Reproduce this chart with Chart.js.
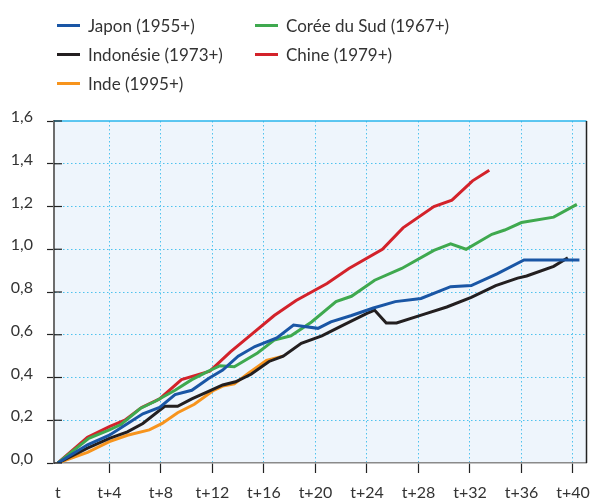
<!DOCTYPE html>
<html>
<head>
<meta charset="utf-8">
<script src="https://cdn.jsdelivr.net/npm/chart.js@4"></script>
<style>
  body { margin: 0; background: #fff; }
  #wrap { position: relative; width: 600px; height: 502px; }
  #legend { position: absolute; left: 0; top: 0; width: 600px; height: 100px; font-family: Lato, sans-serif; font-size: 17px; color: #333; }
  .item { position: absolute; display: flex; align-items: center; height: 20px; }
  .swatch { width: 23px; height: 3px; margin-right: 8px; }
</style>
</head>
<body>
<div id="wrap">
  <canvas id="myChart" width="600" height="502"></canvas>
  <div id="legend"></div>
</div>
<script>
const ctx = document.getElementById("myChart");

const xTicks = [0, 4, 8, 12, 16, 20, 24, 28, 32, 36, 40];

const japonT = [0, 2.3, 4, 5.3, 6.6, 7.9, 9.1, 10.4, 11.7, 12.8, 14, 15.3, 17, 18.3, 20.2, 21.2, 22.8, 24.5, 26.2, 28.2, 30.5, 32.1, 34.1, 36.2, 40.5];
const japonV = [0, 0.085, 0.13, 0.18, 0.23, 0.26, 0.32, 0.34, 0.395, 0.435, 0.5, 0.545, 0.585, 0.645, 0.63, 0.66, 0.69, 0.725, 0.755, 0.77, 0.825, 0.83, 0.885, 0.95, 0.95];

const coreeT = [0, 2.4, 4, 4.9, 6.4, 7.6, 9.1, 10.4, 11.7, 12.6, 13.7, 15.5, 16.8, 18.1, 19.7, 21.6, 22.8, 24.6, 26.7, 29.2, 30.5, 31.7, 33.7, 34.7, 36, 38.5, 40.3];
const coreeV = [0, 0.115, 0.155, 0.18, 0.255, 0.29, 0.34, 0.39, 0.43, 0.455, 0.45, 0.515, 0.575, 0.595, 0.66, 0.755, 0.78, 0.855, 0.91, 0.995, 1.025, 1.0, 1.07, 1.09, 1.125, 1.15, 1.21];

const indonesieT = [0, 2.3, 4, 5.4, 6.6, 8.3, 9.3, 10.4, 11.7, 12.8, 13.8, 15, 16.4, 17.5, 18.9, 20.5, 22, 24, 24.6, 25.5, 26.3, 28.4, 30.2, 32.1, 34, 35.7, 36.4, 38.5, 39.6];
const indonesieV = [0, 0.07, 0.115, 0.146, 0.185, 0.265, 0.265, 0.3, 0.335, 0.365, 0.38, 0.415, 0.475, 0.5, 0.56, 0.595, 0.64, 0.7, 0.715, 0.655, 0.655, 0.695, 0.73, 0.775, 0.83, 0.865, 0.875, 0.92, 0.96];

const chineT = [0, 2.3, 4, 5.2, 6.5, 7.9, 9.6, 11.8, 13.4, 15.2, 16.8, 18.5, 20.9, 22.6, 25.2, 26.8, 29.2, 30.6, 32.2, 33.5];
const chineV = [0, 0.12, 0.17, 0.2, 0.26, 0.3, 0.39, 0.43, 0.52, 0.61, 0.69, 0.76, 0.84, 0.91, 1.0, 1.1, 1.2, 1.23, 1.32, 1.37];

const indeT = [0, 2.3, 4, 5.4, 7.1, 8.1, 9.3, 10.6, 12.1, 12.8, 13.7, 14.8, 16.2, 17.5];
const indeV = [0, 0.05, 0.1, 0.13, 0.155, 0.185, 0.235, 0.275, 0.34, 0.36, 0.37, 0.42, 0.48, 0.5];

function pts(ts, vs) {
  return ts.map((t, i) => ({ x: t, y: vs[i] }));
}

const series = [
  { label: "Japon (1955+)", data: pts(japonT, japonV), color: "#1a56a5", col: 0, row: 0 },
  { label: "Corée du Sud (1967+)", data: pts(coreeT, coreeV), color: "#3fa94f", col: 1, row: 0 },
  { label: "Indonésie (1973+)", data: pts(indonesieT, indonesieV), color: "#231f20", col: 0, row: 1 },
  { label: "Chine (1979+)", data: pts(chineT, chineV), color: "#d3222a", col: 1, row: 1 },
  { label: "Inde (1995+)", data: pts(indeT, indeV), color: "#f7941d", col: 0, row: 2 },
];

const data = {
  datasets: series.map((s) => ({
    label: s.label,
    data: s.data,
    borderColor: s.color,
    backgroundColor: s.color,
    borderWidth: 3,
    pointRadius: 0,
    tension: 0,
    fill: false,
  })),
};

// plot background, inner y ticks, top and right borders
const frame = {
  id: "frame",
  beforeDraw(chart) {
    const a = chart.chartArea;
    const c = chart.ctx;
    c.save();
    c.fillStyle = "#eef5fc";
    c.fillRect(a.left, a.top, a.right - a.left, a.bottom - a.top);
    c.restore();
  },
  afterDraw(chart) {
    const a = chart.chartArea;
    const c = chart.ctx;
    const y = chart.scales.y;
    c.save();
    c.strokeStyle = "#29b5ec";
    c.lineWidth = 1.5;
    c.beginPath();
    c.moveTo(a.left, a.top);
    c.lineTo(a.right, a.top);
    c.stroke();
    c.strokeStyle = "#222";
    c.lineWidth = 1.5;
    c.beginPath();
    c.moveTo(a.right, a.top);
    c.lineTo(a.right, a.bottom);
    c.stroke();
    c.lineWidth = 1.2;
    y.ticks.forEach((t) => {
      const py = y.getPixelForValue(t.value);
      c.beginPath();
      c.moveTo(a.left, py);
      c.lineTo(a.left + 8, py);
      c.stroke();
    });
    c.restore();
  },
};

const config = {
  type: "line",
  data: data,
  options: {
    responsive: false,
    animation: false,
    layout: { padding: { top: 121, right: 9, left: 0, bottom: 0 } },
    plugins: {
      legend: { display: false },
      tooltip: { enabled: false },
    },
    scales: {
      x: {
        type: "linear",
        min: -0.3,
        max: 41.05,
        afterBuildTicks(scale) {
          scale.ticks = xTicks.map((v) => ({ value: v }));
        },
        afterFit(scale) {
          scale.height = 39;
        },
        border: { color: "#8a8a8a", width: 1.5, dash: [1.5, 2.5] },
        grid: {
          color: (c) => (c.tick && c.tick.value === 0 ? "rgba(0,0,0,0)" : "#4fc2ee"),
          tickColor: (c) => (c.tick && c.tick.value === 0 ? "rgba(0,0,0,0)" : "#222"),
          tickLength: 10,
          lineWidth: 1,
          tickWidth: 1.2,
        },
        ticks: {
          padding: 10,
          maxRotation: 0,
          autoSkip: false,
          color: "#333",
          font: { family: "Lato", size: 16 },
          callback: (v) => (v === 0 ? "t" : "t+" + v),
        },
      },
      y: {
        min: 0,
        max: 1.6,
        afterFit(scale) {
          scale.width = 54;
        },
        border: { color: "#6d6d6d", width: 2, dash: [1.5, 2.5] },
        grid: {
          color: (c) => (c.tick && (c.tick.value === 0 || c.tick.value >= 1.6) ? "rgba(0,0,0,0)" : "#4fc2ee"),
          tickColor: "#222",
          tickLength: 7,
          lineWidth: 1,
          tickWidth: 1.2,
        },
        ticks: {
          stepSize: 0.2,
          padding: 14,
          labelOffset: -4,
          color: "#333",
          font: { family: "Lato", size: 16 },
          callback: (v) => v.toFixed(1).replace(".", ","),
        },
      },
    },
  },
  plugins: [frame],
};

const chart = new Chart(ctx, config);

// two-column legend built from the datasets
const legend = document.getElementById("legend");
series.forEach((s) => {
  const item = document.createElement("div");
  item.className = "item";
  item.style.left = (s.col === 0 ? 57 : 255) + "px";
  item.style.top = 25 + s.row * 29.3 - 10 + "px";
  const sw = document.createElement("span");
  sw.className = "swatch";
  sw.style.background = s.color;
  const txt = document.createElement("span");
  txt.textContent = s.label;
  item.appendChild(sw);
  item.appendChild(txt);
  legend.appendChild(item);
});
</script>
</body>
</html>
